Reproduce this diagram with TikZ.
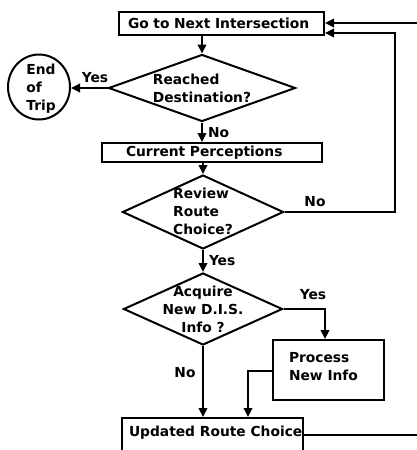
\documentclass[tikz,border=0pt]{standalone}
\usepackage{fontspec}
\setmainfont{DejaVu Sans}
\usetikzlibrary{arrows.meta,shapes.geometric}
\begin{document}
\begin{tikzpicture}[x=1pt,y=-1pt,
  line width=2pt,
  every node/.style={font=\bfseries\fontsize{13.8}{18}\selectfont},
  arr/.style={-{Triangle[length=9pt,width=8.5pt]}},
  boxnode/.style={draw,rectangle,inner ysep=0pt,align=left},
  dianode/.style={draw,diamond,inner sep=0pt},
  txt/.style={inner sep=0pt,align=left},
  lbl/.style={inner sep=0pt}
]
\useasboundingbox (0,0) rectangle (417,450);
\clip (0,0) rectangle (417,450);

% process blocks
\node[boxnode,minimum height=23pt,inner xsep=9pt,text width=187pt] (go) at (221.5,23.5) {Go to Next Intersection};
\node[boxnode,minimum height=19pt,inner xsep=24pt,text width=172pt] (cp) at (212,152.5) {Current Perceptions};
\node[boxnode,minimum width=111pt,minimum height=60pt] (proc) at (328.5,370) {};
\node[txt] (proct) at (proc.center) [xshift=-5pt,yshift=3pt] {Process\\New Info};
\node[draw,rectangle,minimum width=181pt,minimum height=50pt,inner sep=0pt] (upd) at (212.5,443) {};
\node[txt,anchor=west] (updt) at (128,433) {Updated Route Choice};

% decisions
\node[dianode,minimum width=187pt,minimum height=67pt] (d1) at (202,88) {};
\node[txt] (d1t) at (202,88) {Reached\\Destination?};
\node[dianode,minimum width=161pt,minimum height=74pt] (d2) at (203,212) {};
\node[txt] (d2t) at (203,211) {Review\\Route\\Choice?};
\node[dianode,minimum width=159pt,minimum height=72pt] (d3) at (203,309) {};
\node[txt,align=center] (d3t) at (203,309) {Acquire\\New D.I.S.\\Info ?};

% terminal
\node[draw,ellipse,minimum width=62pt,minimum height=65pt,inner sep=0pt] (end) at (39,87) {};
\node[txt] (endt) at (41,89) {End\\of\\Trip};

% loop-back and off-page points
\coordinate (loop) at (395,33);
\coordinate (entA) at (425,23);
\coordinate (exitB) at (425,435);
\coordinate (yesTurn) at (325,309);
\coordinate (procTurn) at (248,371);

% connectors
\draw[arr] (go.south -| d1.north) -- (d1.north);
\draw[arr] (d1.west) -- (d1.west -| end.east);
\node[lbl] (yes1) at (95,78) {Yes};
\draw[arr] (d1.south) -- (cp.north -| d1.south) node[lbl,midway,right=5pt] {No};
\draw[arr] (cp.south -| d2.north) -- (d2.north);
\draw[arr] (d2.east) -| (loop) -- (go.east |- loop);
\node[lbl] (nolbl) at (315,202) {No};
\draw[arr] (d2.south) -- (d3.north) node[lbl,midway,right=5pt] {Yes};
\draw[arr] (d3.east) -| (proc.north -| yesTurn);
\node[lbl] (yeslbl) at (313,295) {Yes};
\draw[arr] (proc.west |- procTurn) -- (procTurn) -- (upd.north -| procTurn);
\draw[arr] (d3.south) -- (upd.north -| d3.south);
\node[lbl] (nolbl2) at (185,373) {No};
\draw (upd.east |- exitB) -- (exitB);
\draw[arr] (entA) -- (go.east |- entA);
\end{tikzpicture}
\end{document}
